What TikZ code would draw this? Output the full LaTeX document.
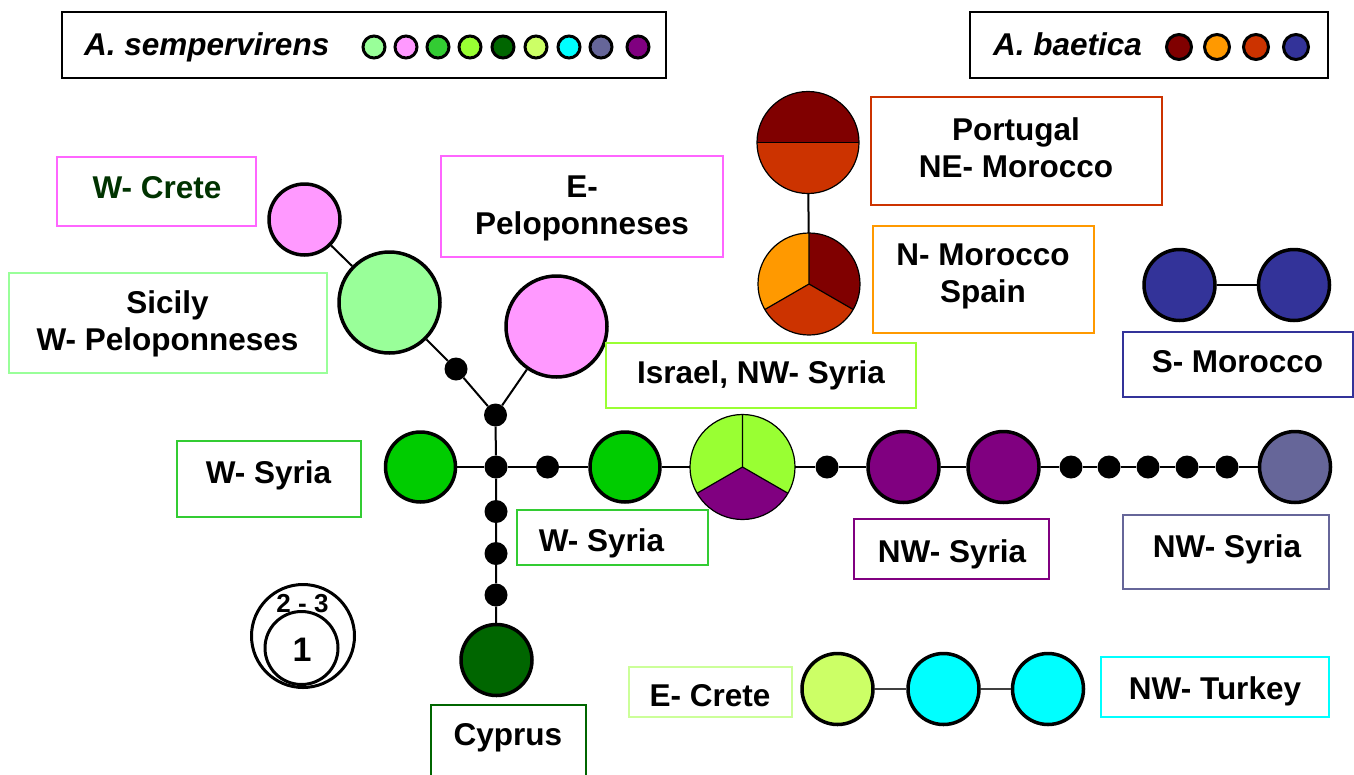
\documentclass[tikz,border=0pt]{standalone}
\usepackage{fontspec}
\setmainfont{Liberation Sans}
\usetikzlibrary{calc}
\definecolor{cLgreen}{HTML}{99FF99}
\definecolor{cPink}{HTML}{FF99FF}
\definecolor{cPinkB}{HTML}{FF66FF}
\definecolor{cGreen}{HTML}{00CC00}
\definecolor{cGreenL}{HTML}{33CC33}
\definecolor{cLime}{HTML}{99FF33}
\definecolor{cDkgreen}{HTML}{006600}
\definecolor{cYlgreen}{HTML}{CCFF66}
\definecolor{cYlgreenB}{HTML}{CCFF99}
\definecolor{cCyan}{HTML}{00FFFF}
\definecolor{cSlate}{HTML}{666699}
\definecolor{cPurple}{HTML}{800080}
\definecolor{cDred}{HTML}{800000}
\definecolor{cOrange}{HTML}{FF9900}
\definecolor{cOred}{HTML}{CC3300}
\definecolor{cBlue}{HTML}{333399}
\definecolor{cTextgreen}{HTML}{003300}
\begin{document}
\begin{tikzpicture}[x=1pt,y=1pt,
  hap/.style={circle,draw=black,line width=3.5pt,inner sep=0pt,minimum size=#1},
  dotn/.style={circle,fill=black,inner sep=0pt,minimum size=23pt},
  lg/.style={circle,draw=black,line width=3pt,inner sep=0pt,minimum size=#1},
  pie/.style={circle,inner sep=0pt,outer sep=0pt,minimum size=#1},
  pieline/.style={line width=1.2pt},
  link/.style={line width=2pt},
  box/.style={draw=#1,line width=2pt,inner sep=0pt,rectangle},
  txt/.style={font=\bfseries\fontsize{31.5}{37}\selectfont,align=center,inner sep=0pt,anchor=base},
]
\useasboundingbox[fill=white] (0,0) rectangle (1354,-774);

% ---------- legends ----------
\node[box=black,minimum width=604pt,minimum height=66pt] (leg1) at (364,-45) {};
\node[txt,anchor=base west] (leg1t) at (84,-55) {\itshape A. sempervirens};
\foreach \xx/\cc [count=\i] in {374/cLgreen,406/cPink,438/cGreenL,470/cLime,503/cDkgreen,536/cYlgreen,569/cCyan,601/cSlate,638/cPurple}
  \node[lg=22pt,fill=\cc] (lga\i) at (\xx,-47) {};
\node[box=black,minimum width=358pt,minimum height=66pt] (leg2) at (1149,-45) {};
\node[txt,anchor=base west] (leg2t) at (993,-55) {\itshape A. baetica};
\foreach \xx/\cc [count=\i] in {1179/cDred,1217/cOrange,1256/cOred,1296/cBlue}
  \node[lg=25pt,fill=\cc] (lgb\i) at (\xx,-47) {};

% ---------- network nodes ----------
\node[hap=71pt,fill=cPink] (wcrete) at (304.5,-219.5) {};
\node[hap=101pt,fill=cLgreen] (sicily) at (389.5,-302.5) {};
\node[dotn] (d1) at (456,-369) {};
\node[dotn] (j1) at (495.5,-415) {};
\node[hap=101pt,fill=cPink] (epel) at (556.5,-326.5) {};
\node[dotn] (j0) at (496,-467) {};
\node[hap=70pt,fill=cGreen] (wsyrL) at (420.5,-467) {};
\node[dotn] (d2) at (547.5,-467) {};
\node[hap=70pt,fill=cGreen] (wsyrR) at (625,-467) {};
\node[pie=105pt] (isr) at (742.5,-467) {};
\node[dotn] (d3) at (827,-467) {};
\node[hap=71pt,fill=cPurple] (nws1) at (903.5,-467) {};
\node[hap=71pt,fill=cPurple] (nws2) at (1003.5,-467) {};
\foreach \xx [count=\i] in {1071,1109,1148,1187,1227}
  \node[dotn] (e\i) at (\xx,-467) {};
\node[hap=71pt,fill=cSlate] (nws3) at (1295,-467) {};
\node[dotn] (v1) at (496,-511.5) {};
\node[dotn] (v2) at (496,-553.5) {};
\node[dotn] (v3) at (496,-595) {};
\node[hap=71pt,fill=cDkgreen] (cyp) at (496.5,-660) {};
\node[hap=71pt,fill=cYlgreen] (ecr) at (837.5,-689) {};
\node[hap=71pt,fill=cCyan] (tur1) at (943.5,-689) {};
\node[hap=71pt,fill=cCyan] (tur2) at (1048,-689) {};
\node[pie=102pt] (port) at (808,-142.5) {};
\node[pie=102pt] (nmor) at (809,-284) {};
\node[hap=71pt,fill=cBlue] (smor1) at (1179.5,-285) {};
\node[hap=71pt,fill=cBlue] (smor2) at (1294,-285) {};

% ---------- connectors ----------
\draw[link] (wcrete) -- (sicily) -- (d1) -- (j1) -- (epel);
\draw[link] (j1) -- (j0) -- (v1) -- (v2) -- (v3) -- (cyp);
\draw[link] (wsyrL) -- (j0) -- (d2) -- (wsyrR) -- (isr) -- (d3) -- (nws1) -- (nws2) -- (e1) -- (e2) -- (e3) -- (e4) -- (e5) -- (nws3);
\draw[link] (port) -- (nmor);
\draw[line width=1.5pt,black!75] (ecr) -- (tur1) -- (tur2);
\draw[link] (smor1) -- (smor2);

% ---------- pies ----------
\fill[cLime] (isr.center) -- ++(90:52.5) arc[start angle=90,end angle=210,radius=52.5] -- cycle;
\fill[cLime] (isr.center) -- ++(-30:52.5) arc[start angle=-30,end angle=90,radius=52.5] -- cycle;
\fill[cPurple] (isr.center) -- ++(210:52.5) arc[start angle=210,end angle=330,radius=52.5] -- cycle;
\draw[pieline] (isr.center) -- ++(90:52.5) (isr.center) -- ++(210:52.5) (isr.center) -- ++(330:52.5);
\draw[pieline] (isr.center) circle[radius=52.5];

\fill[cDred] (port.center) -- ++(0:51) arc[start angle=0,end angle=180,radius=51] -- cycle;
\fill[cOred] (port.center) -- ++(180:51) arc[start angle=180,end angle=360,radius=51] -- cycle;
\draw[pieline] ($(port.center)+(-51,0)$) -- ++(102,0);
\draw[pieline] (port.center) circle[radius=51];

\fill[cDred] (nmor.center) -- ++(-30:51) arc[start angle=-30,end angle=90,radius=51] -- cycle;
\fill[cOrange] (nmor.center) -- ++(90:51) arc[start angle=90,end angle=210,radius=51] -- cycle;
\fill[cOred] (nmor.center) -- ++(210:51) arc[start angle=210,end angle=330,radius=51] -- cycle;
\draw[pieline] (nmor.center) -- ++(90:51) (nmor.center) -- ++(210:51) (nmor.center) -- ++(330:51);
\draw[pieline] (nmor.center) circle[radius=51];

% ---------- label boxes ----------
\node[box=cPinkB,minimum width=199pt,minimum height=69pt] (bWCrete) at (156.5,-191.5) {};
\node[txt,text=cTextgreen] (tWCrete) at (157,-198) {W- Crete};
\node[box=cLgreen,minimum width=318pt,minimum height=100pt] (bSicily) at (168,-323) {};
\node[txt] (tSicily) at (167.5,-350) {Sicily\\W- Peloponneses};
\node[box=cPinkB,minimum width=282pt,minimum height=101pt] (bEPel) at (582,-206.5) {};
\node[txt] (tEPel) at (582,-234) {E-\\Peloponneses};
\node[box=cLime,minimum width=310pt,minimum height=65pt] (bIsr) at (761,-375.5) {};
\node[txt] (tIsr) at (761,-383) {Israel, NW- Syria};
\node[box=cGreenL,minimum width=184pt,minimum height=76pt] (bWSyrL) at (269,-479) {};
\node[txt] (tWSyrL) at (268.5,-483) {W- Syria};
\node[box=cGreenL,minimum width=191pt,minimum height=55pt] (bWSyrR) at (612.5,-537.5) {};
\node[txt] (tWSyrR) at (601.5,-551) {W- Syria};
\node[box=cPurple,minimum width=195pt,minimum height=60pt] (bNWS1) at (951.5,-549) {};
\node[txt] (tNWS1) at (952,-562) {NW- Syria};
\node[box=cSlate,minimum width=206pt,minimum height=74pt] (bNWS2) at (1226,-552) {};
\node[txt] (tNWS2) at (1227,-557) {NW- Syria};
\node[box=cDkgreen,minimum width=155pt,minimum height=80pt] (bCyp) at (508.5,-745) {};
\node[txt] (tCyp) at (508,-745) {Cyprus};
\node[box=cYlgreenB,minimum width=163pt,minimum height=50pt] (bECr) at (710.5,-692) {};
\node[txt] (tECr) at (710,-706) {E- Crete};
\node[box=cCyan,minimum width=228pt,minimum height=60pt] (bTur) at (1215,-687) {};
\node[txt] (tTur) at (1215,-699) {NW- Turkey};
\node[box=cOred,minimum width=291pt,minimum height=108pt] (bPort) at (1016.5,-151) {};
\node[txt] (tPort) at (1016,-177) {Portugal\\NE- Morocco};
\node[box=cOrange,minimum width=221pt,minimum height=107pt] (bNMor) at (983,-279.5) {};
\node[txt] (tNMor) at (983,-302) {N- Morocco\\Spain};
\node[box=cBlue,minimum width=230pt,minimum height=65pt] (bSMor) at (1238,-364.5) {};
\node[txt] (tSMor) at (1237.5,-372) {S- Morocco};

% ---------- size scale ----------
\node[lg=103pt,fill=white] (sc2) at (303,-636) {};
\node[txt,font=\bfseries\fontsize{26}{30}\selectfont] (sc2t) at (302.5,-612) {2 - 3};
\node[lg=73pt] (sc1) at (301.5,-648) {};
\node[txt,font=\bfseries\fontsize{34}{40}\selectfont] (sc1t) at (302,-661) {1};
\end{tikzpicture}
\end{document}
